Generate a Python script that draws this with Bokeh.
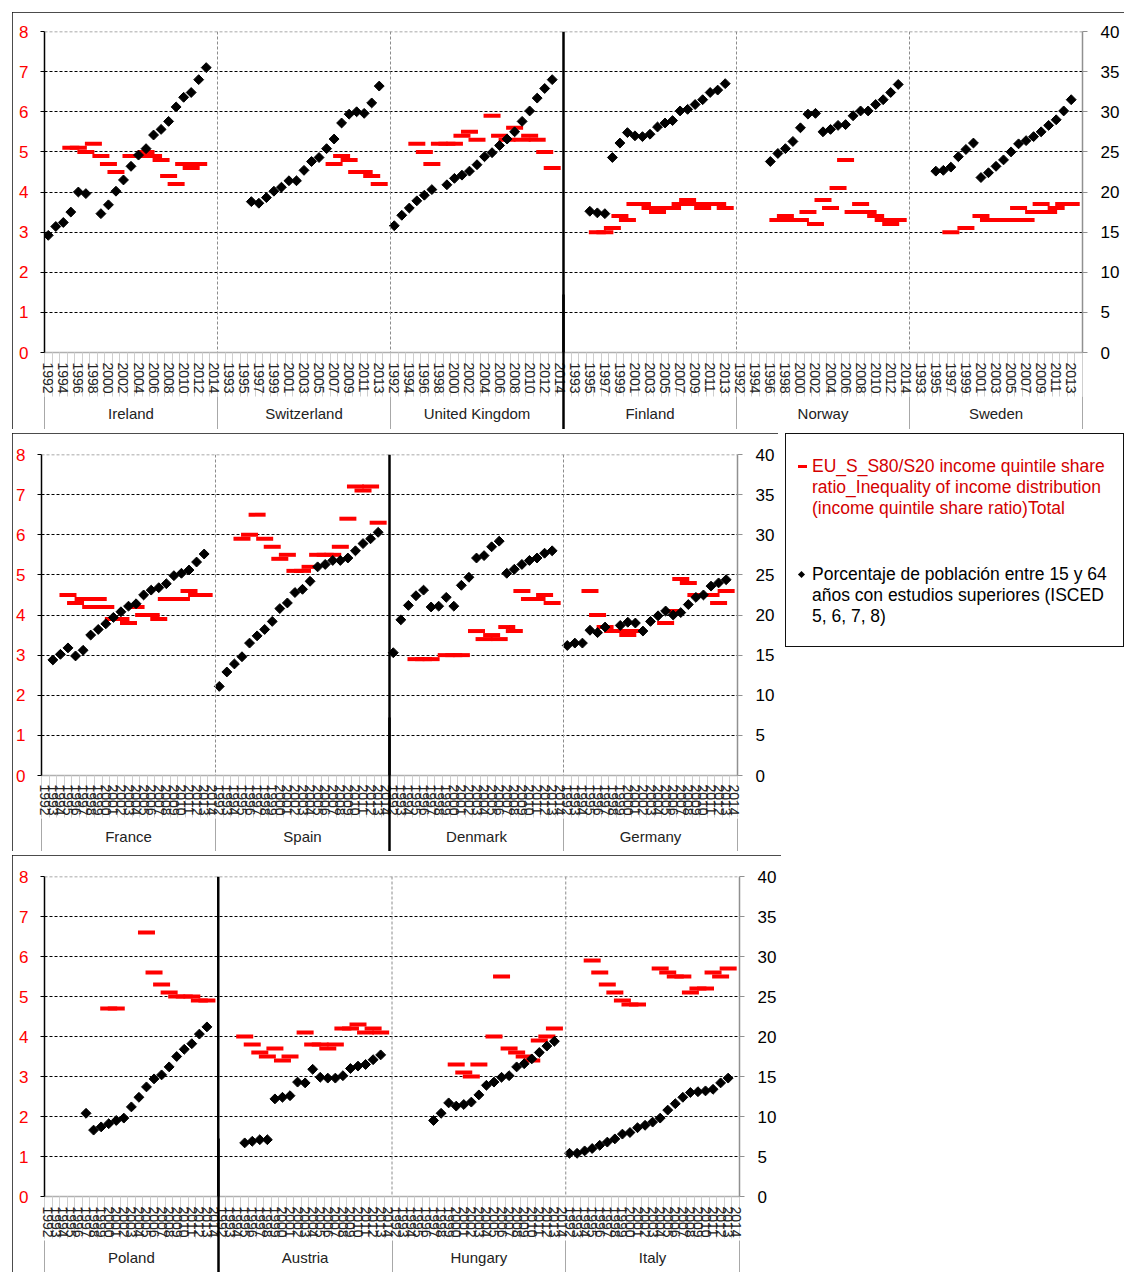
import numpy as np
from bokeh.plotting import figure
from bokeh.models import (Range1d, LinearAxis, FixedTicker, Span, Grid,
                          ColumnDataSource, Div)
from bokeh.layouts import column, row
from bokeh.embed import file_html
from bokeh.resources import INLINE

N = None
YEARS = [str(y) for y in range(1992, 2015)]   # 23 categories per country

# ---------------- data: S80/S20 ratio (left axis) ----------------
ireland_s80 = [N, N, N, 5.1, 5.1, 5.0, 5.2, 4.9, 4.7, 4.5, N, 4.9, 4.9, 5.0, 4.9, 4.8, 4.4, 4.2, 4.7, 4.6, 4.7, N, N]
switzerland_s80 = [N] * 15 + [4.7, 4.9, 4.8, 4.5, 4.5, 4.4, 4.2] + [N]
uk_s80 = [N, N, N, 5.2, 5.0, 4.7, 5.2, 5.2, 5.2, 5.4, 5.5, 5.3, N, 5.9, 5.4, 5.3, 5.6, 5.3, 5.4, 5.3, 5.0, 4.6, N]
finland_s80 = [N] * 4 + [3.0, 3.0, 3.1, 3.4, 3.3, 3.7, 3.7, 3.6, 3.5, 3.6, 3.6, 3.7, 3.8, 3.7, 3.6, 3.7, 3.7, 3.6] + [N]
norway_s80 = [N] * 5 + [3.3, 3.4, 3.3, 3.3, 3.5, 3.2, 3.8, 3.6, 4.1, 4.8, 3.5, 3.7, 3.5, 3.4, 3.3, 3.2, 3.3] + [N]
sweden_s80 = [N] * 5 + [3.0, N, 3.1, N, 3.4, 3.3, 3.3, 3.3, 3.3, 3.6, 3.3, 3.5, 3.7, 3.5, 3.6, 3.7, 3.7] + [N]
france_s80 = [N] * 3 + [4.5, 4.3, 4.4, 4.2, 4.4, 4.2, 3.9, 3.9, 3.8, 4.2, 4.0, 4.0, 3.9, 4.4, 4.4, 4.4, 4.6, 4.5, 4.5] + [N]
spain_s80 = [N] * 3 + [5.9, 6.0, 6.5, 5.9, 5.7, 5.4, 5.5, 5.1, 5.1, 5.2, 5.5, 5.5, 5.5, 5.7, 6.4, 7.2, 7.1, 7.2, 6.3] + [N]
denmark_s80 = [N] * 3 + [2.9, 2.9, 2.9, N, 3.0, 3.0, 3.0, N, 3.6, 3.4, 3.5, 3.4, 3.7, 3.6, 4.6, 4.4, 4.4, 4.5, 4.3] + [N]
germany_s80 = [N] * 3 + [4.6, 4.0, 3.7, 3.6, 3.6, 3.5, 3.6, N, N, N, 3.8, 4.1, 4.9, 4.8, 4.5, 4.5, 4.5, 4.3, 4.6] + [N]
poland_s80 = [N] * 8 + [4.7, 4.7, N, N, N, 6.6, 5.6, 5.3, 5.1, 5.0, 5.0, 5.0, 4.9, 4.9] + [N]
austria_s80 = [N] * 3 + [4.0, 3.8, 3.6, 3.5, 3.7, 3.4, 3.5, N, 4.1, 3.8, 3.8, 3.7, 3.8, 4.2, 4.2, 4.3, 4.1, 4.2, 4.1] + [N]
hungary_s80 = [N] * 8 + [3.3, 3.1, 3.0, 3.3, N, 4.0, 5.5, 3.7, 3.6, 3.5, 3.4, 3.9, 4.0, 4.2] + [N]
italy_s80 = [N] * 3 + [5.9, 5.6, 5.3, 5.1, 4.9, 4.8, 4.8, N, N, 5.7, 5.6, 5.5, 5.5, 5.1, 5.2, 5.2, 5.6, 5.5, 5.7] + [N]

# ------- data: % of population 15-64 with tertiary education (right axis) -------
ireland_edu = [14.6, 15.7, 16.2, 17.5, 20.0, 19.8, N, 17.3, 18.4, 20.1, 21.5, 23.2, 24.6, 25.4, 27.1, 27.8, 28.8, 30.6, 31.8, 32.4, 34.0, 35.5, N]
switzerland_edu = [N] * 4 + [18.8, 18.6, 19.3, 20.1, 20.6, 21.4, 21.4, 22.7, 23.8, 24.3, 25.4, 26.6, 28.6, 29.7, 30.0, 29.8, 31.1, 33.2] + [N]
uk_edu = [15.8, 17.1, 18.0, 18.9, 19.6, 20.3, N, 20.9, 21.7, 22.1, 22.6, 23.4, 24.4, 24.9, 25.8, 26.6, 27.5, 28.8, 30.1, 31.7, 32.9, 34.0, N]
finland_edu = [N] * 3 + [17.6, 17.4, 17.3, 24.3, 26.1, 27.4, 27.0, 26.9, 27.2, 28.1, 28.6, 28.9, 30.1, 30.3, 30.9, 31.5, 32.4, 32.7, 33.5] + [N]
norway_edu = [N] * 4 + [23.8, 24.8, 25.4, 26.3, 28.0, 29.7, 29.8, 27.5, 27.8, 28.3, 28.4, 29.5, 30.1, 30.1, 30.9, 31.5, 32.4, 33.4] + [N]
sweden_edu = [N] * 3 + [22.6, 22.7, 23.1, 24.4, 25.3, 26.1, 21.8, 22.4, 23.2, 24.0, 25.0, 26.0, 26.4, 26.9, 27.5, 28.3, 29.0, 30.1, 31.5] + [N]
france_edu = [N] + [14.4, 15.1, 15.9, 14.9, 15.6, 17.5, 18.2, 18.9, 19.7, 20.4, 21.1, 21.4, 22.5, 23.1, 23.4, 23.9, 24.9, 25.2, 25.6, 26.6, 27.6] + [N]
spain_edu = [11.1, 12.9, 13.9, 14.8, 16.5, 17.4, 18.2, 19.2, 20.8, 21.5, 22.8, 23.2, 24.2, 26.0, 26.3, 26.8, 26.8, 27.1, 28.0, 28.9, 29.5, 30.3] + [N]
denmark_edu = [15.3, 19.4, 21.2, 22.4, 23.1, 21.0, 21.1, 22.2, 21.1, 23.7, 24.7, 27.1, 27.4, 28.5, 29.2, 25.2, 25.7, 26.3, 26.8, 27.1, 27.7, 28.0] + [N]
germany_edu = [16.2, 16.5, 16.5, 18.1, 17.8, 18.5, N, 18.7, 19.1, 19.0, 18.0, 19.2, 19.9, 20.5, 20.0, 20.3, 21.3, 22.2, 22.5, 23.6, 24.0, 24.4] + [N]
poland_edu = [N] * 5 + [10.4, 8.3, 8.7, 9.1, 9.5, 9.8, 11.2, 12.4, 13.7, 14.7, 15.2, 16.2, 17.5, 18.4, 19.1, 20.3, 21.2] + [N]
austria_edu = [N] * 3 + [6.7, 6.9, 7.1, 7.1, 12.2, 12.4, 12.6, 14.3, 14.2, 15.9, 14.9, 14.8, 14.8, 15.1, 16.0, 16.3, 16.5, 17.1, 17.7] + [N]
hungary_edu = [N] * 5 + [9.5, 10.4, 11.7, 11.3, 11.5, 11.8, 12.7, 13.9, 14.3, 14.9, 15.1, 16.2, 16.6, 17.2, 18.0, 18.8, 19.4] + [N]
italy_edu = [5.4, 5.4, 5.7, 6.0, 6.4, 6.8, 7.2, 7.8, 8.0, 8.6, 8.9, 9.3, 9.8, 10.8, 11.6, 12.4, 13.0, 13.1, 13.2, 13.4, 14.2, 14.8] + [N]

PANEL1 = ["Ireland", "Switzerland", "United Kingdom", "Finland", "Norway", "Sweden"]
PANEL2 = ["France", "Spain", "Denmark", "Germany"]
PANEL3 = ["Poland", "Austria", "Hungary", "Italy"]

S80 = {"Ireland": ireland_s80, "Switzerland": switzerland_s80, "United Kingdom": uk_s80,
       "Finland": finland_s80, "Norway": norway_s80, "Sweden": sweden_s80,
       "France": france_s80, "Spain": spain_s80, "Denmark": denmark_s80, "Germany": germany_s80,
       "Poland": poland_s80, "Austria": austria_s80, "Hungary": hungary_s80, "Italy": italy_s80}
EDU = {"Ireland": ireland_edu, "Switzerland": switzerland_edu, "United Kingdom": uk_edu,
       "Finland": finland_edu, "Norway": norway_edu, "Sweden": sweden_edu,
       "France": france_edu, "Spain": spain_edu, "Denmark": denmark_edu, "Germany": germany_edu,
       "Poland": poland_edu, "Austria": austria_edu, "Hungary": hungary_edu, "Italy": italy_edu}

LEFT_TICKS = [0, 1, 2, 3, 4, 5, 6, 7, 8]
RIGHT_TICKS = [0, 5, 10, 15, 20, 25, 30, 35, 40]

LEG_RED_LINES = ["EU_S_S80/S20 income quintile share",
                 "ratio_Inequality of income distribution",
                 "(income quintile share ratio)Total"]
LEG_BLACK_LINES = ["Porcentaje de población entre 15 y 64",
                   "años con estudios superiores (ISCED",
                   "5, 6, 7, 8)"]

FONT = "Liberation Sans"
RED = "#ff0000"
BOX = {"outline": "1.5px solid #111", "outline-offset": "-1px"}


def panel(countries, width, height, borders, thick_group, label_step, band):
    n = 23 * len(countries)
    lb, rb, tb, bb = borders
    p = figure(width=width, height=height, x_range=Range1d(-0.5, n - 0.5), y_range=Range1d(0, 8),
               x_axis_type=None, y_axis_type=None, output_backend="svg", toolbar_location=None,
               min_border_left=lb, min_border_right=rb, min_border_top=tb, min_border_bottom=bb,
               outline_line_color=None, background_fill_color="white", border_fill_color="white",
               styles=BOX)
    p.extra_y_ranges = {"pct": Range1d(0, 40)}

    p.add_layout(Grid(dimension=1, ticker=FixedTicker(ticks=LEFT_TICKS[1:-1]),
                      grid_line_color="black", grid_line_dash="3 2", grid_line_width=1))
    p.add_layout(Span(location=LEFT_TICKS[-1], dimension="width", line_color="#8c8c8c",
                      line_dash="3 2", line_width=1.5))
    for g in range(1, len(countries)):
        if g == thick_group:
            p.add_layout(Span(location=g * 23 - 0.5, dimension="height", line_color="black", line_width=2.5))
        else:
            p.add_layout(Span(location=g * 23 - 0.5, dimension="height", line_color="#8c8c8c",
                              line_dash="3 2", line_width=1))

    xs, ys, es = [], [], []
    for ci, c in enumerate(countries):
        for i in range(23):
            xs.append(ci * 23 + i)
            ys.append(np.nan if S80[c][i] is None else S80[c][i])
            es.append(np.nan if EDU[c][i] is None else EDU[c][i])
    src = ColumnDataSource(dict(x=xs, s80=ys, edu=es))
    p.scatter("x", "s80", source=src, marker="dash", size=17, line_color=RED, line_width=4)
    p.scatter("x", "edu", source=src, y_range_name="pct", marker="square", angle=np.pi / 4,
              size=7, fill_color="black", line_color="black")

    la = LinearAxis(ticker=FixedTicker(ticks=LEFT_TICKS), axis_line_color="black", axis_line_width=1.5,
                    major_tick_out=4, major_tick_in=0, major_tick_line_color="black",
                    minor_tick_line_color=None, major_label_text_color=RED,
                    major_label_text_font=FONT, major_label_text_font_size="17px",
                    major_label_standoff=12)
    p.add_layout(la, "left")
    ra = LinearAxis(y_range_name="pct", ticker=FixedTicker(ticks=RIGHT_TICKS), axis_line_color="#909090",
                    axis_line_width=1.5, major_tick_out=5, major_tick_in=0, major_tick_line_color="#909090",
                    minor_tick_line_color=None, major_label_text_color="black",
                    major_label_text_font=FONT, major_label_text_font_size="17px",
                    major_label_standoff=13)
    p.add_layout(ra, "right")

    hatch, y_off, c_off = band
    # year labels + light hatch between categories
    lab = list(range(0, n, label_step))
    ya = LinearAxis(ticker=FixedTicker(ticks=lab, minor_ticks=[k - 0.5 for k in range(n + 1)]),
                    major_label_overrides={k: YEARS[k % 23] for k in lab},
                    major_label_orientation="vertical", major_tick_out=0, major_tick_in=0,
                    minor_tick_out=hatch, minor_tick_in=0, minor_tick_line_color="#cfcfcf",
                    axis_line_color="#b0b0b0", axis_line_width=1.5,
                    major_label_standoff=y_off - hatch,
                    major_label_text_font=FONT, major_label_text_font_size="14px",
                    major_label_text_color="#222222")
    p.add_layout(ya, "below")
    # country labels + group separators
    ctr = [g * 23 + 11 for g in range(len(countries))]
    sep_len = 80
    ca = LinearAxis(ticker=FixedTicker(ticks=ctr, minor_ticks=[g * 23 - 0.5 for g in range(len(countries) + 1)]),
                    major_label_overrides={t: c for t, c in zip(ctr, countries)},
                    major_tick_out=0, major_tick_in=0, minor_tick_out=sep_len, minor_tick_in=0,
                    minor_tick_line_color="#a8a8a8", axis_line_color=None,
                    major_label_standoff=c_off - sep_len, major_label_text_font=FONT,
                    major_label_text_font_size="15px", major_label_text_color="#222222")
    p.add_layout(ca, "below")
    # thick black separator continued below the frame
    tb_loc = thick_group * 23 - 0.5
    sa = LinearAxis(ticker=FixedTicker(ticks=[tb_loc]), major_label_overrides={tb_loc: " "},
                    major_tick_in=130, major_tick_out=sep_len, major_tick_line_color="black",
                    major_tick_line_width=2.5, minor_tick_line_color=None, axis_line_color=None,
                    major_label_text_font_size="1px", major_label_standoff=-sep_len)
    p.add_layout(sa, "below")
    return p


p1 = panel(PANEL1, 1112, 417, (32, 41, 19, 77), 3, 2, (44, 10, 8))
p2 = panel(PANEL2, 766, 418, (29, 41, 21, 74), 2, 1, (42, 9, 9))
p3 = panel(PANEL3, 769, 417, (29, 42, 21, 72), 1, 1, (42, 10, 8))

# legend box (HTML text, red dash key and black diamond key)
legend_html = (
    '<div style="position:relative;width:339px;height:214px;font-family:\'Liberation Sans\',Arial,sans-serif;'
    'font-size:17.5px;line-height:21px;white-space:nowrap;">'
    '<span style="position:absolute;left:13px;top:32px;width:9px;height:3px;background:%s;"></span>'
    '<div style="position:absolute;left:27px;top:23px;color:#d40000;">%s</div>'
    '<span style="position:absolute;left:14px;top:139px;width:5px;height:5px;background:#000;'
    'transform:rotate(45deg);"></span>'
    '<div style="position:absolute;left:27px;top:131px;color:#000;">%s</div>'
    '</div>'
) % (RED, "<br>".join(LEG_RED_LINES), "<br>".join(LEG_BLACK_LINES))
lg = Div(text=legend_html, width=339, height=214, margin=0, styles=BOX)

layout = column(p1, row(p2, lg, spacing=7), p3, spacing=4, margin=(12, 0, 0, 12))
open("out.html", "w").write(file_html(layout, INLINE))
